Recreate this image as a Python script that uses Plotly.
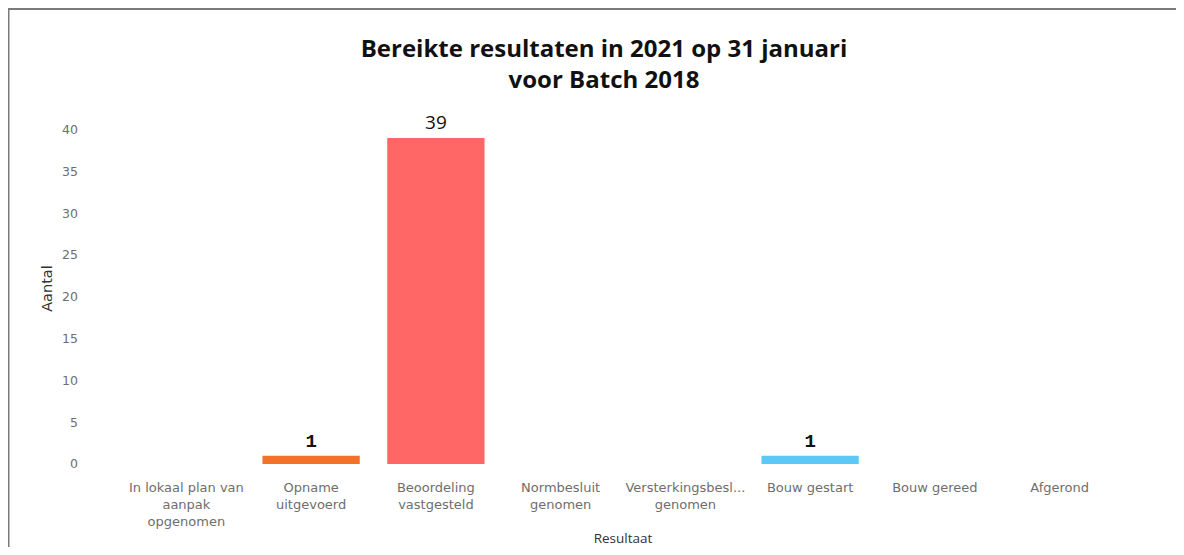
import plotly.graph_objects as go

categories = [
    "In lokaal plan van<br>aanpak<br>opgenomen",
    "Opname<br>uitgevoerd",
    "Beoordeling<br>vastgesteld",
    "Normbesluit<br>genomen",
    "Versterkingsbesl...<br>genomen",
    "Bouw gestart",
    "Bouw gereed",
    "Afgerond",
]
values = [0, 1, 39, 0, 0, 1, 0, 0]
bar_colors = ["#9e9e9e", "#F47227", "#FF6666", "#8e8e8e", "#8e8e8e", "#5BC8F5", "#8e8e8e", "#8e8e8e"]
label_fonts = ["Open Sans", "Liberation Mono", "Open Sans", "Open Sans", "Open Sans", "Liberation Mono", "Open Sans", "Open Sans"]

labels = []
for v, f in zip(values, label_fonts):
    if v <= 0:
        labels.append("")
    elif f == "Liberation Mono":
        labels.append("<b>%d</b>" % v)
    else:
        labels.append(str(v))

# page has an 8px body margin; figure coordinates = page coordinates - 8
W, H = 1168, 539
L, R, T, B = 116, 54, 105, 83
pw = W - L - R
ph = H - T - B


def px_x(p):
    return (p - L) / pw


def px_y(p):
    return (H - B - p) / ph


fig = go.Figure(
    go.Bar(
        x=categories,
        y=values,
        marker=dict(color=bar_colors, line=dict(width=0)),
        text=labels,
        textposition="outside",
        cliponaxis=False,
        textfont=dict(size=19, color="#111111", family=label_fonts),
        hoverinfo="x+y",
    )
)

fig.update_layout(
    width=W,
    height=H,
    margin=dict(l=L, r=R, t=T, b=B, pad=0, autoexpand=False),
    paper_bgcolor="white",
    plot_bgcolor="white",
    showlegend=False,
    bargap=0.22,
    title=dict(
        text="<b>Bereikte resultaten in 2021 op 31 januari<br>voor Batch 2018</b>",
        x=596 / W,
        xanchor="center",
        y=1 - 48.5 / H,
        yanchor="middle",
        font=dict(family="Open Sans", size=24, color="#111111"),
    ),
    xaxis=dict(
        title=dict(text="Resultaat", font=dict(family="Open Sans", size=13.5, color="#333333"), standoff=10),
        tickfont=dict(family="DejaVu Sans", size=13, color="#6e6e6e"),
        showgrid=False,
        zeroline=False,
        showline=False,
        ticks="",
        tickangle=0,
        ticklabelstandoff=14,
        automargin=False,
    ),
    yaxis=dict(
        title=dict(text="Aantal", font=dict(family="DejaVu Sans", size=14.5, color="#333333"), standoff=6),
        tickfont=dict(family="DejaVu Sans", size=12.5, color="#6e6e6e"),
        range=[0, 42],
        tickvals=[0, 5, 10, 15, 20, 25, 30, 35, 40],
        showgrid=False,
        zeroline=False,
        showline=False,
        ticks="",
        ticklabelstandoff=45,
        automargin=False,
    ),
    shapes=[
        dict(
            type="rect",
            xref="paper",
            yref="paper",
            x0=px_x(0.5),
            x1=px_x(1175),
            y0=px_y(560),
            y1=px_y(1),
            line=dict(color="#7a7a7a", width=2),
            fillcolor="rgba(0,0,0,0)",
            layer="below",
        )
    ],
)

fig.write_html("out.html")
